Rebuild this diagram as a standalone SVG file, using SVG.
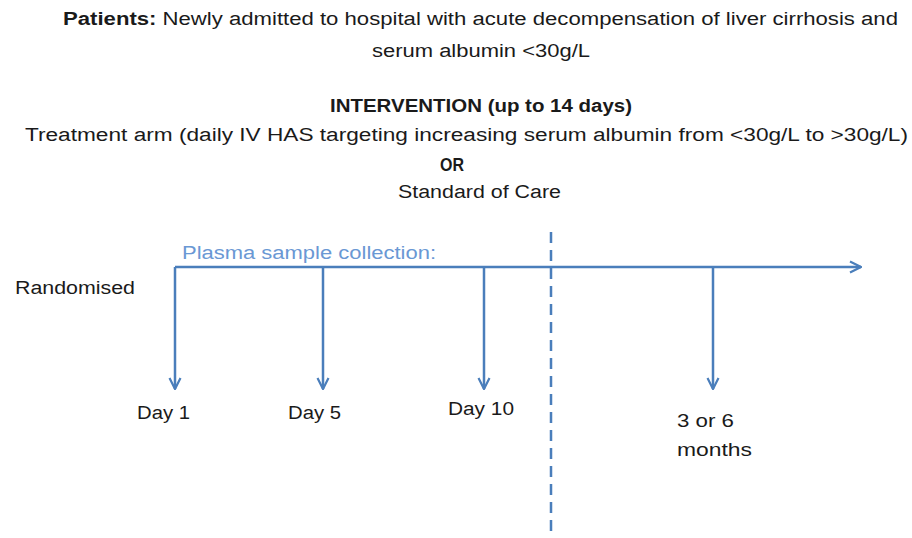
<svg xmlns="http://www.w3.org/2000/svg" width="912" height="538" viewBox="0 0 912 538">
<style>
text{font-family:"Liberation Sans","Open Sans",sans-serif;font-size:18px;fill:#1a1a1a}
.b{font-weight:bold}
.blue{fill:#6a98d4}
.ln{stroke:#4a7ebb;stroke-width:2.5;fill:none}
.dash{stroke:#4a7ebb;stroke-width:2.5;stroke-dasharray:11,7;fill:none}
</style>
<defs>
<marker id="ah" viewBox="0 0 10 10" refX="9" refY="5" markerWidth="5.5" markerHeight="5.5" orient="auto" markerUnits="strokeWidth">
<path d="M1,1 L9,5 L1,9" fill="none" stroke="#4a7ebb" stroke-width="1.6"/>
</marker>
</defs>
<rect width="912" height="538" fill="#ffffff"/>
<g id="patients">
<text x="63" y="25" textLength="835" lengthAdjust="spacingAndGlyphs"><tspan class="b">Patients:</tspan> Newly admitted to hospital with acute decompensation of liver cirrhosis and</text>
<text x="372" y="57" textLength="218" lengthAdjust="spacingAndGlyphs">serum albumin &lt;30g/L</text>
</g>
<g id="intervention">
<text class="b" x="330" y="112" textLength="302" lengthAdjust="spacingAndGlyphs">INTERVENTION (up to 14 days)</text>
<text x="25" y="141" textLength="883" lengthAdjust="spacingAndGlyphs">Treatment arm (daily IV HAS targeting increasing serum albumin from &lt;30g/L to &gt;30g/L)</text>
<text class="b" x="440" y="171" textLength="24" lengthAdjust="spacingAndGlyphs">OR</text>
<text x="398" y="198" textLength="163" lengthAdjust="spacingAndGlyphs">Standard of Care</text>
</g>
<g id="labels">
<text class="blue" x="182" y="259" textLength="254" lengthAdjust="spacingAndGlyphs">Plasma sample collection:</text>
<text x="15" y="294" textLength="120" lengthAdjust="spacingAndGlyphs">Randomised</text>
<text x="137" y="419" textLength="53" lengthAdjust="spacingAndGlyphs">Day 1</text>
<text x="288" y="419" textLength="53" lengthAdjust="spacingAndGlyphs">Day 5</text>
<text x="448" y="415" textLength="66" lengthAdjust="spacingAndGlyphs">Day 10</text>
<text x="677" y="427" textLength="57" lengthAdjust="spacingAndGlyphs">3 or 6</text>
<text x="677" y="456" textLength="75" lengthAdjust="spacingAndGlyphs">months</text>
</g>
<g id="connectors">
<path class="ln" d="M175,267 H861" marker-end="url(#ah)"/>
<path class="ln" d="M175,267 V389" marker-end="url(#ah)"/>
<path class="ln" d="M323,267 V389" marker-end="url(#ah)"/>
<path class="ln" d="M484,267 V389" marker-end="url(#ah)"/>
<path class="ln" d="M713,267 V389" marker-end="url(#ah)"/>
<path class="dash" d="M551,232 V538"/>
</g>
</svg>
